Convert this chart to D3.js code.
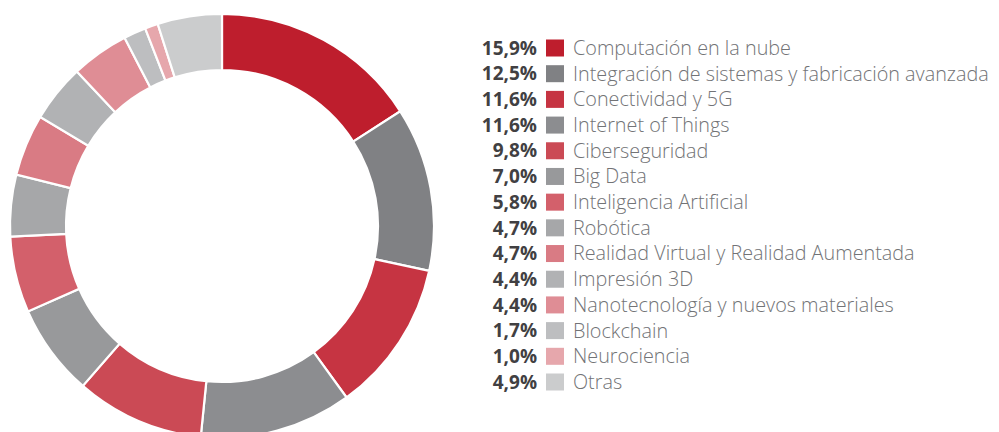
<!DOCTYPE html>
<html lang="es">
    <head>
        <meta charset="utf-8">
        <title></title>
        <script src='https://cdn.jsdelivr.net/npm/d3@7'></script>
        <style>
            body { margin: 0; background: #fff; }
        </style>
    </head>
    <body>
        <svg width='999' height='432'></svg>
        <script>
            var categories = ['Computación en la nube', 'Integración de sistemas y fabricación avanzada',
                'Conectividad y 5G', 'Internet of Things', 'Ciberseguridad', 'Big Data',
                'Inteligencia Artificial', 'Robótica', 'Realidad Virtual y Realidad Aumentada',
                'Impresión 3D', 'Nanotecnología y nuevos materiales', 'Blockchain',
                'Neurociencia', 'Otras'];
            var values = [15.9, 12.5, 11.6, 11.6, 9.8, 7.0, 5.8, 4.7, 4.7, 4.4, 4.4, 1.7, 1.0, 4.9];
            var colors = ['#be1e2d', '#808184', '#c63442', '#8c8d90', '#cb4a55', '#98999b',
                '#d3606b', '#a6a7a9', '#d97b84', '#b1b2b4', '#df8d95', '#bdbec0',
                '#e6a7ac', '#cbcccd'];

            var svg = d3.select('svg');
            var data = categories.map((c, i) => ({name: c, value: values[i], color: colors[i]}));

            var pie = d3.pie().sort(null).value(d => d.value);
            var arc = d3.arc().innerRadius(156).outerRadius(212);

            svg.append('g')
                .attr('transform', 'translate(222,226)')
                .selectAll('path')
                .data(pie(data))
                .enter()
                .append('path')
                .attr('d', arc)
                .style('fill', d => d.data.color)
                .style('stroke', 'white')
                .style('stroke-width', 2.2);

            var y = d3.scalePoint()
                .domain(categories)
                .range([48, 382]);

            var rows = svg.append('g')
                .selectAll('g.row')
                .data(data)
                .enter()
                .append('g')
                .attr('class', 'row')
                .attr('transform', d => 'translate(0,' + y(d.name) + ')');

            rows.append('text')
                .attr('x', 537)
                .attr('dy', '0.35em')
                .attr('text-anchor', 'end')
                .style('font-family', 'Open Sans')
                .style('font-weight', 700)
                .style('font-size', '19px')
                .style('fill', '#414042')
                .text(d => d3.format('.1f')(d.value).replace('.', ',') + '%');

            rows.append('rect')
                .attr('x', 546)
                .attr('y', -8.5)
                .attr('width', 18)
                .attr('height', 17)
                .style('fill', d => d.color);

            rows.append('text')
                .attr('x', 573)
                .attr('dy', '0.35em')
                .style('font-family', 'Open Sans')
                .style('font-weight', 300)
                .style('font-size', '19.8px')
                .style('fill', '#727376')
                .text(d => d.name);
        </script>
    </body>
</html>
